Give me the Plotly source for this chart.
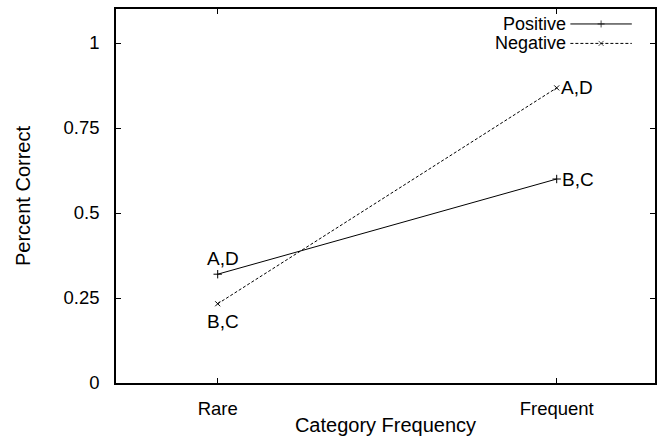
import plotly.graph_objects as go

categories = ["Rare", "Frequent"]
cat_pos = [0, 1]
positive = [0.32, 0.60]
negative = [0.233, 0.868]
positive_labels = ["A,D", "B,C"]
negative_labels = ["B,C", "A,D"]
y_ticks = [0, 0.25, 0.5, 0.75, 1]
y_ticklabels = ["0", "0.25", "0.5", "0.75", "1"]

FONT = "Liberation Sans, Arial, Helvetica, sans-serif"
TICK_SIZE = 18.5
TITLE_SIZE = 20
TEXT_SIZE = 19
LEG_SIZE = 18

fig = go.Figure()
fig.add_trace(go.Scatter(x=cat_pos, y=positive, mode="lines+markers", name="Positive",
                         line=dict(color="black", width=1),
                         marker=dict(symbol="cross-thin", size=6, line=dict(color="black", width=1)),
                         showlegend=False))
fig.add_trace(go.Scatter(x=cat_pos, y=negative, mode="lines+markers", name="Negative",
                         line=dict(color="black", width=1, dash="3px,2px"),
                         marker=dict(symbol="x-thin", size=5, line=dict(color="black", width=1)),
                         showlegend=False))

# manual legend (text right-aligned, sample on the right, gnuplot style)
leg = [("Positive", "solid", "cross-thin", 0.960), ("Negative", "3px,2px", "x-thin", 0.908)]
for name, dash, sym, yy in leg:
    fig.add_trace(go.Scatter(x=[0.843, 0.900, 0.957], y=[yy, yy, yy], xaxis="x2", yaxis="y2",
                             mode="lines+markers", showlegend=False, hoverinfo="skip",
                             line=dict(color="black", width=1, dash=dash),
                             marker=dict(symbol=sym, size=[0, 5, 0], line=dict(color="black", width=1))))
    fig.add_annotation(x=0.836, y=yy, xref="paper", yref="paper", text=name, showarrow=False,
                       xanchor="right", yanchor="middle", borderpad=0,
                       font=dict(family=FONT, size=LEG_SIZE, color="black"))

annots = []
annots.append(dict(x=cat_pos[0], y=positive[0], text=positive_labels[0], xanchor="center", yanchor="bottom", yshift=3, xshift=5))
annots.append(dict(x=cat_pos[0], y=negative[0], text=negative_labels[0], xanchor="center", yanchor="top", yshift=-5, xshift=5))
annots.append(dict(x=cat_pos[1], y=positive[1], text=positive_labels[1], xanchor="left", yanchor="middle", xshift=3))
annots.append(dict(x=cat_pos[1], y=negative[1], text=negative_labels[1], xanchor="left", yanchor="middle", xshift=2))
for a in annots:
    fig.add_annotation(xref="x", yref="y", showarrow=False,
                       font=dict(family=FONT, size=TEXT_SIZE, color="black"), **a)

axis_common = dict(showline=True, linecolor="black", linewidth=1.5, mirror="ticks",
                   ticks="inside", ticklen=5, tickcolor="black", tickwidth=1,
                   showgrid=False, zeroline=False,
                   tickfont=dict(family=FONT, size=TICK_SIZE, color="black"))

fig.update_layout(
    width=663, height=439,
    margin=dict(l=116, r=6, t=9, b=54),
    paper_bgcolor="white", plot_bgcolor="white",
    font=dict(family=FONT, color="black"),
    xaxis=dict(range=[-0.3, 1.29], tickvals=cat_pos, ticktext=categories,
               title=dict(text="Category Frequency", font=dict(family=FONT, size=TITLE_SIZE), standoff=0),
               ticklabelstandoff=8, **axis_common),
    yaxis=dict(range=[0, 1.1], tickvals=y_ticks, ticktext=y_ticklabels,
               title=dict(text="Percent Correct", font=dict(family=FONT, size=TITLE_SIZE), standoff=28),
               ticklabelstandoff=11, **axis_common),
    xaxis2=dict(domain=[0, 1], range=[0, 1], visible=False, overlaying="x"),
    yaxis2=dict(domain=[0, 1], range=[0, 1], visible=False, overlaying="y"),
)

fig.write_html("out.html")
